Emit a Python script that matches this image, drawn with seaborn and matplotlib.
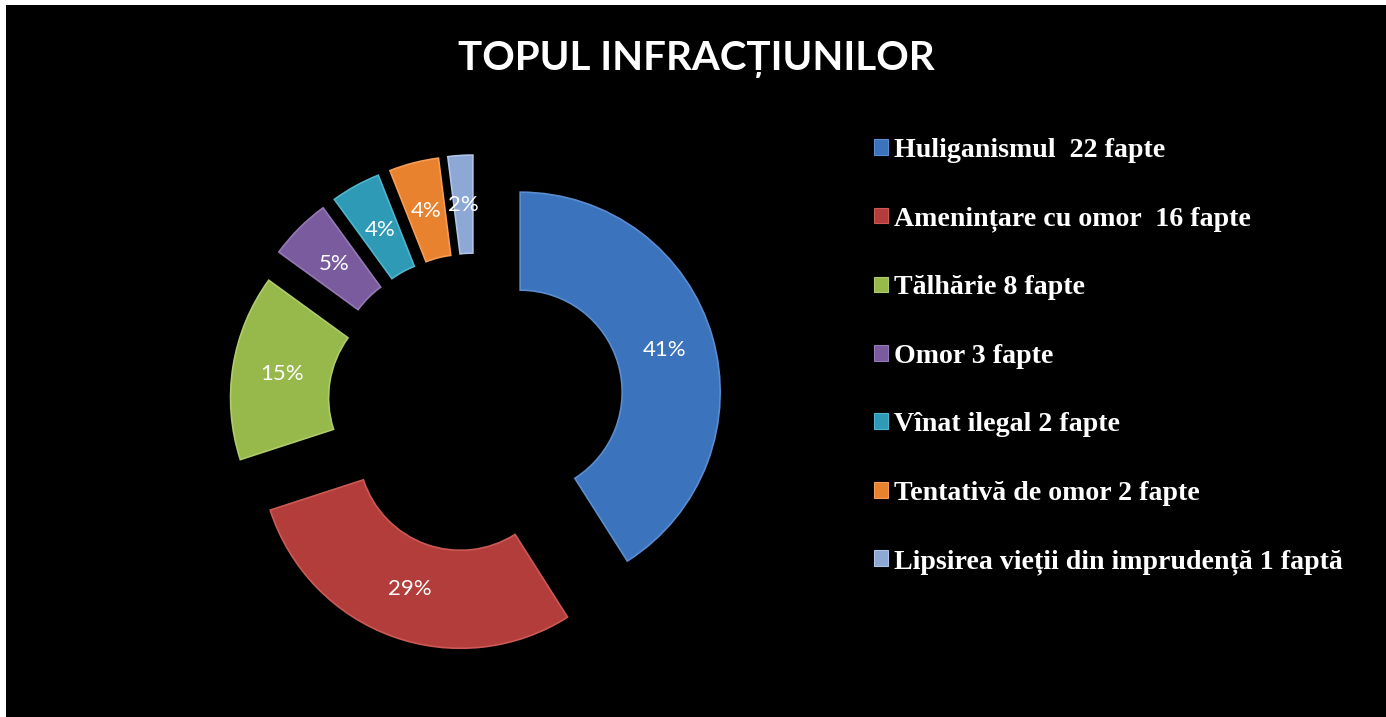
import matplotlib
matplotlib.use("Agg")
import matplotlib.pyplot as plt
import seaborn as sns
from matplotlib.patches import Patch, Rectangle

# ---- data ----
categories = [
    "Huliganismul  22 fapte",
    "Amenințare cu omor  16 fapte",
    "Tălhărie 8 fapte",
    "Omor 3 fapte",
    "Vînat ilegal 2 fapte",
    "Tentativă de omor 2 fapte",
    "Lipsirea vieții din imprudență 1 faptă",
]
shares = [41, 29, 15, 5, 4, 4, 2]
pct_labels = ["41%", "29%", "15%", "5%", "4%", "4%", "2%"]
title = "TOPUL INFRACȚIUNILOR"

# ---- style ----
colors = sns.color_palette(["#3B74BC", "#B33D3A", "#97B94B", "#7A5C9E",
                            "#2E9AB5", "#E8822F", "#8EA8D6"])
edge_colors = sns.color_palette(["#5A8DD0", "#CB5A56", "#AECC6A", "#9479B5",
                                 "#4FB5CD", "#F59D55", "#AFC3E6"])
R = 200
explode = [0.23 * R, 0.23 * R, 0.23 * R, 0.25 * R, 0.25 * R, 0.25 * R, 0.25 * R]

sns.set_theme(style="dark")
W, H = 1386, 717
fig = plt.figure(figsize=(W / 100, H / 100), dpi=100, facecolor="white")
bg = Rectangle((6 / W, 0), 1 - 6 / W, 1 - 5 / H, transform=fig.transFigure,
               facecolor="black", edgecolor="none", zorder=-10)
fig.add_artist(bg)

ax = fig.add_axes([0, 0, 1, 1])
ax.set_facecolor("none")
ax.set_zorder(1)

lab_iter = iter(pct_labels)
wedges, texts, autotexts = ax.pie(
    shares, explode=explode, colors=colors, startangle=90, counterclock=False,
    radius=R, center=(476, H - 405),
    wedgeprops=dict(width=98, linewidth=1.2),
    autopct=lambda p: next(lab_iter), pctdistance=0.75,
    textprops=dict(color="white", fontsize=16, family="Lato"),
)
for w, ec in zip(wedges, edge_colors):
    w.set_edgecolor(ec)
ax.set_xlim(0, W)
ax.set_ylim(0, H)
ax.axis("off")

fig.text(696 / W, 1 - 60 / H, title, ha="center", va="center",
         fontsize=29, fontweight="bold", family="Lato", color="white")

handles = [Patch(facecolor=c, edgecolor=ec, linewidth=0.8)
           for c, ec in zip(colors, edge_colors)]
leg = ax.legend(handles, categories, loc="upper left",
                bbox_to_anchor=(874 / W, 1 - 138 / H), bbox_transform=fig.transFigure,
                frameon=False,
                prop=dict(family="Liberation Serif", weight="bold", size=20.1),
                labelcolor="white", handlelength=0.5, handleheight=0.5,
                handletextpad=0.22, labelspacing=1.555, borderaxespad=0, borderpad=0)

fig.savefig("out.png", dpi=100, facecolor=fig.get_facecolor())
